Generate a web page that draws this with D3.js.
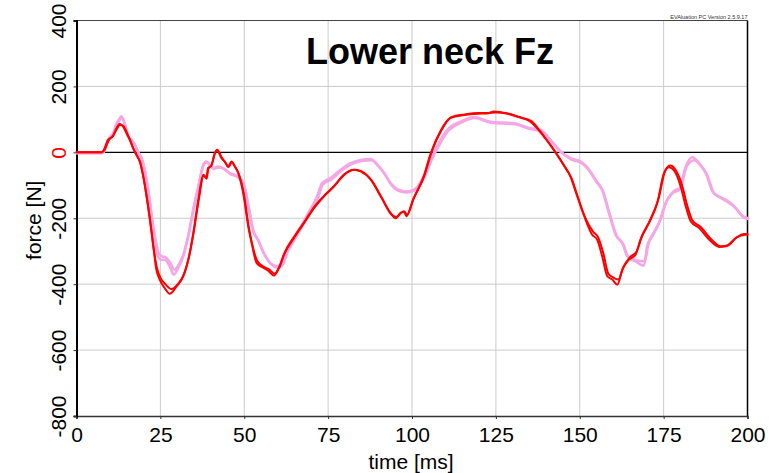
<!DOCTYPE html>
<html>
<head>
<meta charset="utf-8">
<script src="https://cdn.jsdelivr.net/npm/d3@7"></script>
<style>
  html, body { margin: 0; padding: 0; background: #fff; }
  svg { display: block; font-family: "Liberation Sans", Arial, sans-serif; }
</style>
</head>
<body>
<svg id="chart" width="781" height="473"></svg>
<script>
// Lower neck axial force, four measurement channels: [time ms, force N]
const redA = [[0,0],[7.5,0],[8,5],[9.4,38],[10.9,50],[11.9,73],[12.9,86],[13.9,78],[14.9,58],[15.9,38],[16.9,13],[17.9,-8],[18.9,-28],[19.9,-73],[20.9,-134],[21.9,-205],[22.9,-285],[23.8,-356],[24.8,-386],[26.3,-412],[27.8,-429],[29.8,-407],[31.8,-376],[33.3,-326],[34.8,-245],[36.3,-144],[37.8,-68],[38.7,-78],[39.2,-48],[40.2,-40],[41.2,-3],[41.9,8],[43.2,-18],[44.2,-28],[45.2,-43],[46.2,-28],[47.2,-43],[48.2,-63],[49.7,-124],[51.2,-225],[52.2,-275],[53.7,-336],[55.8,-351],[57.3,-361],[58.8,-374],[60.3,-351],[61.8,-311],[64.8,-260],[67.8,-215],[70.8,-169],[73.7,-134],[76.7,-104],[79.7,-68],[82.7,-53],[84.7,-58],[87.7,-83],[90.7,-134],[93.6,-184],[95.1,-200],[96.6,-185],[97.6,-179],[98.3,-194],[100.3,-144],[103.5,-73],[105.5,-5],[108.5,65],[111.5,105],[115.5,113],[119.5,117],[122.4,118],[124.5,124],[128.4,118],[131.4,109],[135.3,93],[137.3,73],[139.3,48],[142.3,8],[145.3,-40],[147.3,-75],[148.6,-114],[151.2,-190],[153.7,-250],[155.2,-265],[156.7,-316],[158.2,-376],[159.7,-386],[161.2,-402],[162.7,-356],[164.6,-326],[166.6,-311],[168.1,-265],[170.6,-215],[173.1,-154],[175.1,-63],[176.6,-45],[178.1,-55],[180.1,-104],[181.6,-164],[183.1,-210],[185.6,-230],[188.6,-265],[191.6,-287],[193.6,-285],[196.5,-260],[199,-248],[200,-248]];
const redB = [[0,0],[7.5,0],[8.2,5],[9.6,36],[11,52],[12,70],[13,84],[14,80],[15,60],[16,36],[17,10],[18,-10],[19,-32],[20,-78],[21,-140],[22,-212],[23,-292],[24,-352],[25,-380],[26.5,-400],[28.3,-415],[30.2,-400],[32.2,-366],[33.6,-315],[35,-238],[36.5,-140],[37.9,-70],[38.8,-80],[39.3,-50],[40.3,-38],[41.3,-2],[42,6],[43.3,-16],[44.3,-30],[45.3,-45],[46.3,-30],[47.3,-45],[48.4,-66],[49.9,-128],[51.4,-230],[52.4,-280],[53.9,-330],[55.6,-346],[57.5,-356],[59,-368],[60.5,-348],[62,-305],[65,-254],[68,-210],[71,-164],[74,-130],[77,-100],[80,-66],[83,-53],[85,-58],[88,-86],[91,-138],[93.8,-188],[95.3,-196],[96.8,-182],[97.8,-180],[98.5,-190],[100.5,-140],[103.7,-70],[105.8,0],[108.8,68],[111.8,107],[115.8,115],[119.8,119],[122.7,119],[124.8,121],[128.7,117],[131.7,107],[135.6,95],[137.6,72],[139.6,45],[142.6,2],[145.6,-45],[147.6,-80],[149,-122],[151.5,-195],[153.9,-240],[155.5,-258],[157,-305],[158.5,-368],[160,-380],[161.5,-386],[163,-348],[165,-318],[167,-300],[168.5,-255],[171,-205],[173.5,-140],[175.5,-55],[177,-40],[178.5,-52],[180.5,-100],[182,-160],[183.5,-205],[186,-226],[189,-262],[192,-285],[194,-283],[196.8,-258],[199.2,-250],[200,-250]];
const pinkA = [[0,-3],[7.5,-3],[8,0],[9.4,38],[10.9,58],[11.9,86],[12.9,103],[13.4,109],[14.4,86],[15.4,48],[16.4,38],[17.4,23],[18.4,0],[19.4,-18],[20.4,-58],[21.4,-119],[22.4,-194],[23.3,-265],[24.3,-316],[25.3,-326],[26.3,-326],[27.8,-346],[29,-371],[30.3,-351],[31.8,-316],[33.3,-255],[34.8,-174],[36.3,-104],[37.8,-38],[38.7,-28],[39.7,-38],[40.7,-48],[42.2,-43],[43.7,-48],[45.7,-63],[47.7,-71],[49.7,-93],[51.2,-164],[52.7,-240],[53.9,-262],[55.8,-305],[57.8,-336],[59.8,-346],[61.3,-336],[62.8,-295],[65.8,-245],[68.8,-189],[71.7,-134],[73.2,-93],[75.7,-78],[78.7,-53],[81.7,-33],[84.7,-23],[87.7,-20],[89.7,-38],[91.7,-63],[93.6,-93],[95.6,-112],[98.1,-119],[100.5,-114],[103.5,-73],[105.5,-23],[107.5,18],[110.5,68],[114.5,93],[118.4,107],[123.4,93],[130.4,88],[135.3,73],[138.3,68],[141.3,38],[144.3,2],[147.3,-18],[150.3,-28],[152.2,-45],[154.7,-83],[156.7,-114],[158.7,-184],[160.7,-250],[162.7,-275],[164.2,-316],[166.6,-331],[169.1,-344],[170.1,-285],[171.6,-255],[173.6,-215],[175.6,-154],[177.6,-124],[179.6,-114],[181.6,-43],[183.5,-15],[185.6,-33],[187.6,-63],[189.6,-119],[191.6,-134],[193.6,-144],[196.1,-164],[198.6,-194],[200,-199]];
const pinkB = [[0,-2],[7.5,-2],[8.1,1],[9.5,36],[11,56],[12,82],[13,100],[13.5,104],[14.5,84],[15.5,46],[16.5,36],[17.5,20],[18.5,-3],[19.5,-22],[20.5,-62],[21.5,-124],[22.5,-198],[23.5,-262],[24.5,-306],[25.5,-316],[26.5,-318],[28,-336],[29.2,-356],[30.5,-340],[32,-306],[33.5,-245],[35,-166],[36.5,-98],[38,-36],[38.9,-30],[39.9,-40],[40.9,-50],[42.4,-46],[43.9,-50],[45.9,-66],[47.9,-74],[49.9,-98],[51.4,-170],[52.9,-244],[54.1,-266],[56,-310],[58,-340],[60,-350],[61.5,-340],[63,-300],[66,-248],[69,-192],[72,-138],[73.4,-98],[76,-82],[79,-56],[82,-36],[85,-26],[88,-24],[90,-42],[92,-68],[93.8,-98],[95.8,-116],[98.3,-122],[100.7,-116],[103.7,-76],[105.7,-26],[107.7,14],[110.7,64],[114.7,90],[118.6,104],[123.6,90],[130.6,85],[135.5,70],[138.5,64],[141.5,34],[144.5,0],[147.5,-22],[150.5,-32],[152.4,-50],[155,-90],[157,-120],[159,-190],[161,-254],[163,-280],[164.5,-318],[167,-328],[169.4,-330],[170.5,-275],[172,-245],[174,-205],[176,-146],[178,-118],[180,-108],[182,-40],[184.2,-24],[186,-40],[188,-70],[190,-124],[192,-138],[194,-150],[196.5,-170],[199,-198],[200,-202]];

const xTicks = [0, 25, 50, 75, 100, 125, 150, 175, 200];
const yTicks = [400, 200, 0, -200, -400, -600, -800];

const titleText = "Lower neck Fz";
const xLabel = "time [ms]";
const yLabel = "force [N]";
const versionText = "EVAluation PC Version 2.5.9.17";

const svg = d3.select("#chart");
const plot = { left: 76.5, right: 747.5, top: 20.5, bottom: 416 };

const x = d3.scaleLinear().domain([0, 200]).range([plot.left, plot.right]);
const y = d3.scaleLinear().domain([-800, 400]).range([plot.bottom, plot.top]);

// plain hyphen-minus for negative tick values
const fmt = d => String(d);

// grid
const grid = svg.append("g");
grid.selectAll("line.vg").data(xTicks.filter(t => t > 0 && t < 200)).join("line")
  .attr("x1", d => x(d)).attr("x2", d => x(d))
  .attr("y1", plot.top).attr("y2", plot.bottom)
  .attr("stroke", "#cbcbcb").attr("stroke-width", 1);
grid.selectAll("line.hg").data(yTicks.filter(v => v !== 0 && v > -800 && v < 400)).join("line")
  .attr("x1", plot.left).attr("x2", plot.right)
  .attr("y1", d => y(d)).attr("y2", d => y(d))
  .attr("stroke", "#cbcbcb").attr("stroke-width", 1);

// zero line
svg.append("line")
  .attr("x1", plot.left).attr("x2", plot.right)
  .attr("y1", y(0)).attr("y2", y(0))
  .attr("stroke", "#000").attr("stroke-width", 1.2);

// frame
svg.append("line").attr("x1", plot.left).attr("x2", plot.right)
  .attr("y1", plot.top).attr("y2", plot.top).attr("stroke", "#444").attr("stroke-width", 1.2);
svg.append("line").attr("x1", plot.right).attr("x2", plot.right)
  .attr("y1", plot.top).attr("y2", plot.bottom).attr("stroke", "#000").attr("stroke-width", 1.5);

// axes
const xAxis = svg.append("g")
  .attr("transform", `translate(0,${plot.bottom})`)
  .call(d3.axisBottom(x).tickValues(xTicks).tickSize(3).tickPadding(8).tickFormat(fmt));
xAxis.select(".domain").attr("stroke", "#333").attr("stroke-width", 1.5);
xAxis.selectAll(".tick line").attr("stroke", "#333");
xAxis.selectAll("text").attr("font-size", 21).attr("fill", "#000")
  .attr("font-family", "Liberation Sans, Arial, sans-serif");

const yAxis = svg.append("g")
  .attr("transform", `translate(${plot.left},0)`)
  .call(d3.axisLeft(y).tickValues(yTicks).tickSize(3).tickFormat(fmt));
yAxis.select(".domain").attr("stroke", "#000").attr("stroke-width", 2);
yAxis.selectAll(".tick line").attr("stroke", "#333");
yAxis.selectAll(".tick text")
  .attr("font-size", 21)
  .attr("font-family", "Liberation Sans, Arial, sans-serif")
  .attr("x", null).attr("dy", null)
  .attr("text-anchor", "middle")
  .attr("transform", "translate(-11,0) rotate(-90)")
  .attr("fill", d => d === 0 ? "#ff0000" : "#000");

// curves
const line = d3.line().x(d => x(d[0])).y(d => y(d[1])).curve(d3.curveMonotoneX);
const curves = svg.append("g").attr("fill", "none")
  .attr("stroke-linejoin", "round").attr("stroke-linecap", "round");
[pinkA, pinkB].forEach(s => curves.append("path").datum(s).attr("d", line)
  .attr("stroke", "#f5a6e4").attr("stroke-width", 2.6));
[redA, redB].forEach(s => curves.append("path").datum(s).attr("d", line)
  .attr("stroke", "#ff0000").attr("stroke-width", 2));

// labels
svg.append("text").attr("x", 430).attr("y", 64).attr("text-anchor", "middle")
  .attr("font-size", 36).attr("font-weight", "bold").text(titleText);
svg.append("text").attr("x", plot.right).attr("y", 19).attr("text-anchor", "end")
  .attr("font-size", 5.5).attr("fill", "#333").text(versionText);
svg.append("text").attr("x", 411).attr("y", 469).attr("text-anchor", "middle")
  .attr("font-size", 21).text(xLabel);
svg.append("text").attr("transform", `translate(41,${(plot.top + plot.bottom) / 2 + 2}) rotate(-90)`)
  .attr("text-anchor", "middle").attr("font-size", 21).text(yLabel);
</script>
</body>
</html>
